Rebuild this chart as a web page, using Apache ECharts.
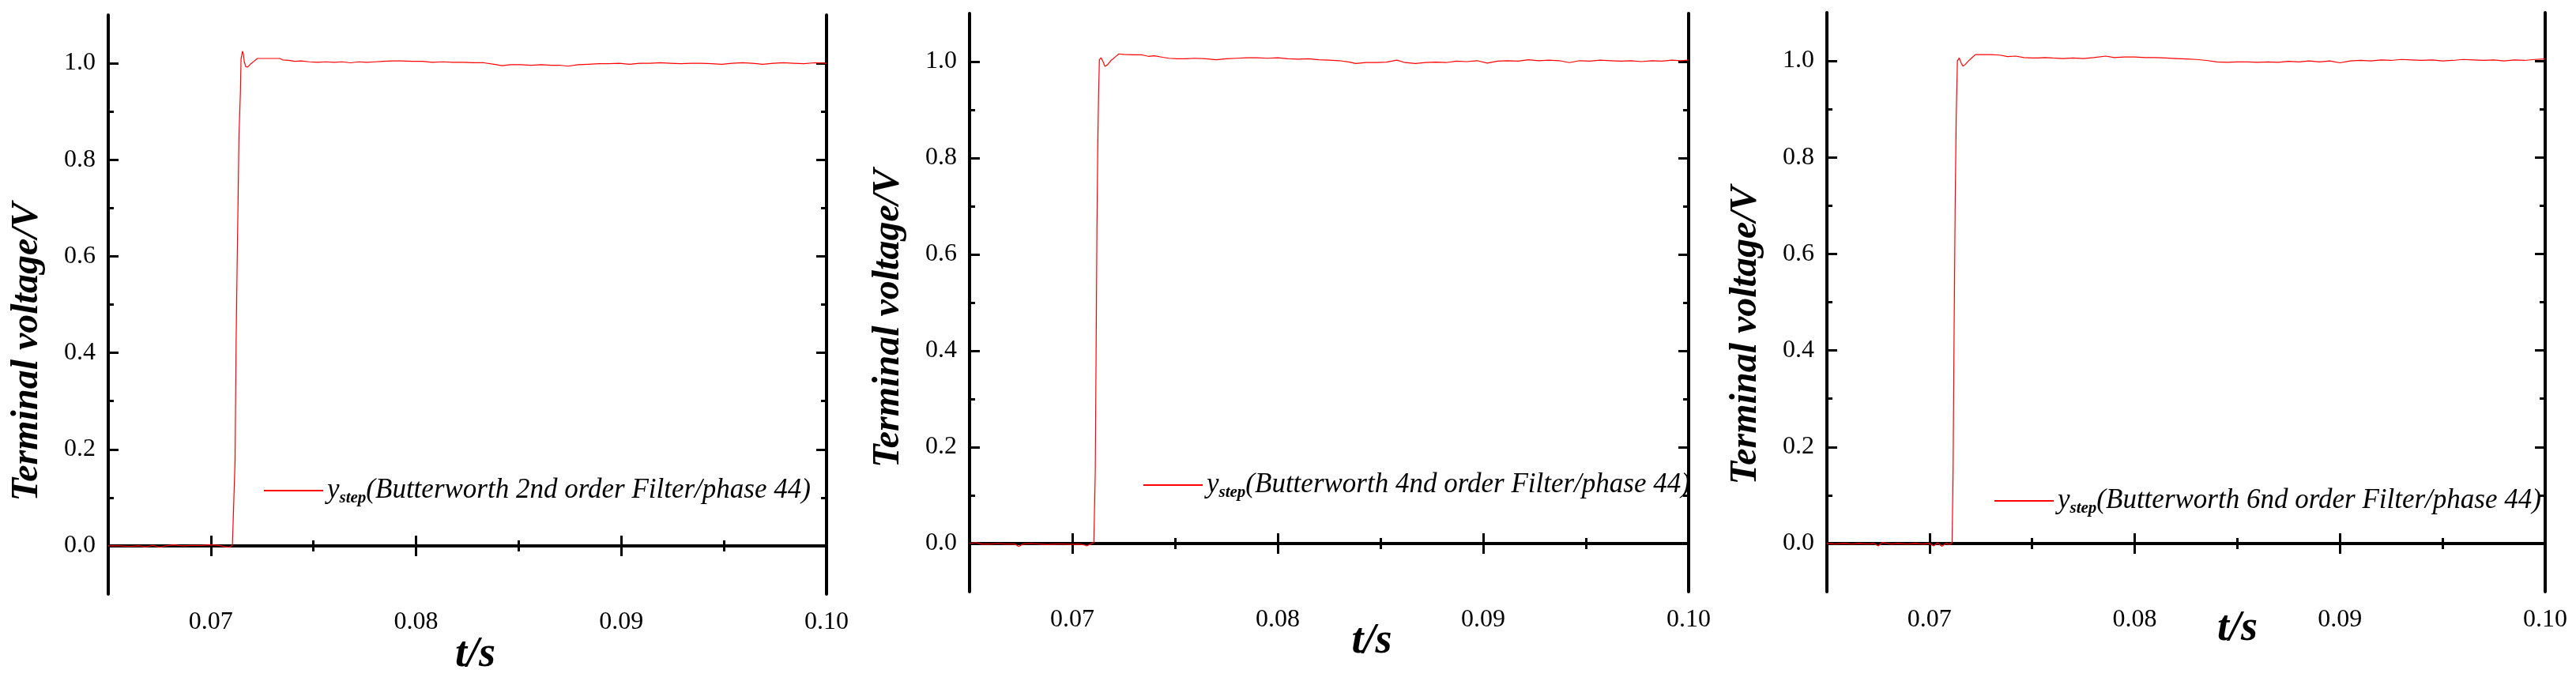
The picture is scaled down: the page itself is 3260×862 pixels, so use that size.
<!DOCTYPE html>
<html><head><meta charset="utf-8">
<script src="https://cdn.jsdelivr.net/npm/echarts@6.0.0/dist/echarts.min.js"></script>
<style>html,body{margin:0;padding:0;background:#fff}#c{width:3260px;height:862px}</style>
</head><body><div id="c"></div>
<script>
// ---- tick values ----
const xMajor = [0.07, 0.08, 0.09, 0.10];
const xMinor = [0.075, 0.085, 0.095];
const yMajor = [0.0, 0.2, 0.4, 0.6, 0.8, 1.0];
const yMinor = [0.1, 0.3, 0.5, 0.7, 0.9];
const filterOrders = ['2nd', '4nd', '6nd'];

// ---- panel 1 : Butterworth 2nd order ----
const t1 = [0.0650,0.0655,0.0660,0.0665,0.0668,0.0672,0.0675,0.0678,0.0682,0.0686,0.0690,0.0695,0.0700,0.0704,0.0707,0.0709,0.07105,
  0.07112,0.07118,0.07123,0.07128,0.07133,0.07137,0.07144,0.07147,0.07154,0.07158,0.07163,0.07170,0.07178,0.07186,0.07195,0.07210,0.07227,
  0.0730,0.07336,0.0735,0.0738,0.0741,0.0744,0.0748,0.0752,0.0756,0.0760,0.0764,0.0768,0.0772,0.0776,0.0780,0.0784,0.0788,0.0793,0.0798,
  0.0803,0.0808,0.0813,0.0818,0.0823,0.0828,0.0833,0.0838,0.0842,0.0846,0.0851,0.0856,0.0861,0.0866,0.0870,0.0874,0.0879,0.0884,0.0889,
  0.0894,0.0899,0.0904,0.0909,0.0914,0.0919,0.0924,0.0929,0.0934,0.0939,0.0944,0.0949,0.0954,0.0959,0.0964,0.0969,0.0974,0.0979,0.0984,
  0.0989,0.0994,0.1000];
const v1 = [0.000,0.000,-0.001,0.000,-0.002,0.001,-0.003,0.000,0.002,0.000,0.001,0.001,0.002,0.001,-0.002,-0.003,0.001,
  0.004,0.178,0.417,0.580,0.727,0.850,0.940,1.008,1.025,1.020,1.003,0.993,0.992,0.995,0.999,1.004,1.010,
  1.010,1.010,1.007,1.006,1.004,1.005,1.003,1.002,1.003,1.002,1.003,1.001,1.003,1.002,1.003,1.004,1.005,1.005,1.004,
  1.004,1.002,1.003,1.002,1.002,1.001,1.001,0.998,0.995,0.997,0.997,0.996,0.997,0.996,0.996,0.994,0.997,0.998,0.999,
  0.999,1.000,0.998,1.000,1.000,1.001,1.000,0.999,1.000,1.000,0.999,0.998,1.000,1.001,1.000,0.998,1.000,1.001,1.000,
  0.999,1.001,1.000];

// ---- panel 2 : Butterworth 4nd order ----
const t2 = [0.0650,0.0653,0.0656,0.0660,0.0664,0.0668,0.0672,0.0674,0.0676,0.0680,0.0684,0.0688,0.0692,0.0696,0.0700,0.0703,0.0706,0.0707,0.0709,0.07105,
  0.07108,0.07112,0.07116,0.07120,0.07124,0.07128,0.07132,0.07140,0.07150,0.07159,0.07170,0.07190,0.07210,0.07227,0.0725,0.0730,0.0734,0.0737,
  0.0740,0.0744,0.0747,0.0751,0.0755,0.0760,0.0765,0.0770,0.0775,0.0780,0.0785,0.0790,0.0795,0.0800,0.0805,0.0810,0.0815,0.0820,0.0825,
  0.0830,0.0835,0.0838,0.0843,0.0848,0.0853,0.0858,0.0862,0.0867,0.0872,0.0877,0.0882,0.0887,0.0892,0.0897,0.0902,0.0907,0.0912,0.0917,
  0.0922,0.0927,0.0932,0.0937,0.0942,0.0947,0.0952,0.0957,0.0962,0.0967,0.0972,0.0977,0.0982,0.0987,0.0992,0.0996,0.1000];
const v2 = [0.000,0.002,-0.001,-0.001,0.000,-0.001,-0.001,-0.006,-0.001,0.000,-0.001,-0.002,-0.001,-0.001,-0.002,-0.001,-0.003,-0.005,-0.001,0.002,
  0.002,0.150,0.400,0.650,0.820,0.930,1.004,1.008,1.000,0.990,0.993,1.003,1.010,1.016,1.015,1.014,1.014,1.011,
  1.012,1.009,1.007,1.006,1.006,1.007,1.006,1.004,1.006,1.007,1.008,1.008,1.007,1.008,1.006,1.005,1.006,1.004,1.003,
  1.002,0.999,0.996,0.998,0.998,0.999,1.003,0.998,0.996,0.998,0.999,0.998,1.001,1.000,1.002,0.997,1.001,1.002,1.001,
  1.004,1.002,1.003,1.002,0.998,1.002,1.001,1.003,1.002,1.001,1.002,1.000,1.002,1.001,1.003,1.002,1.003];

// ---- panel 3 : Butterworth 6nd order ----
const t3 = [0.0650,0.0654,0.0658,0.0662,0.0666,0.0670,0.0673,0.0675,0.0677,0.0681,0.0685,0.0689,0.0693,0.0697,0.0700,0.0702,0.0704,0.0706,0.0708,0.0710,
  0.07110,0.07115,0.07120,0.07125,0.07130,0.07136,0.07145,0.07155,0.07163,0.07175,0.07190,0.07210,0.07224,0.0730,0.07343,0.0738,0.0742,0.0746,
  0.0750,0.0753,0.0756,0.0760,0.0765,0.0770,0.0775,0.0780,0.0786,0.0790,0.0795,0.0800,0.0805,0.0810,0.0815,0.0820,0.0825,0.0830,0.0835,
  0.0840,0.0845,0.0850,0.0855,0.0860,0.0865,0.0870,0.0875,0.0880,0.0885,0.0890,0.0895,0.0900,0.0905,0.0910,0.0915,0.0920,0.0925,0.0930,
  0.0935,0.0940,0.0945,0.0950,0.0955,0.0960,0.0965,0.0970,0.0975,0.0980,0.0985,0.0990,0.0995,0.1000];
const v3 = [0.000,-0.001,0.000,-0.001,0.000,-0.001,0.000,-0.005,0.002,-0.001,0.000,-0.001,0.000,-0.001,0.000,-0.005,0.001,-0.006,0.000,-0.002,
  0.003,0.150,0.450,0.700,0.880,1.000,1.006,0.995,0.989,0.993,1.000,1.008,1.013,1.013,1.012,1.009,1.010,1.007,
  1.006,1.006,1.007,1.006,1.005,1.006,1.005,1.007,1.010,1.007,1.008,1.008,1.007,1.007,1.006,1.005,1.004,1.003,1.001,
  0.998,0.997,0.998,0.998,0.997,0.998,0.997,0.999,0.998,1.000,0.998,1.000,0.996,1.000,1.001,1.000,1.002,1.001,1.003,
  1.002,1.001,1.002,1.000,1.001,1.003,1.002,1.001,1.002,1.000,1.002,1.001,1.003,1.004];

const panelT = [t1, t2, t3];
const panelV = [v1, v2, v3];

// ---- layout ----
const SERIF = '"Liberation Serif", "Times New Roman", "DejaVu Serif", serif';
const grids = [
  {left: 137, top: 19, width: 909, height: 733},
  {left: 1227, top: 17, width: 910, height: 732},
  {left: 2312, top: 16, width: 909, height: 733}
];
const yNameShift = [60, 20, 42];
const xNameShift = [10, 54, 65];
const xNameGap = [50, 36, 20];
const legendPos = [{left: 334, top: 601}, {left: 1447, top: 594}, {left: 2524, top: 614}];

const option = {
  animation: false,
  backgroundColor: '#ffffff',
  grid: [], xAxis: [], yAxis: [], series: [], legend: []
};

const axisLineStyle = {show: true, lineStyle: {color: '#000', width: 4}};
const noLine = {show: false};

grids.forEach((g, i) => {
  option.grid.push(Object.assign({outerBoundsMode: 'none', containLabel: false}, g));
  const xb = {type: 'value', gridIndex: i, min: 0.065, max: 0.10, splitLine: {show: false}};
  // bottom major
  option.xAxis.push(Object.assign({}, xb, {
    position: 'bottom', axisLine: axisLineStyle,
    axisTick: {show: true, inside: true, length: 13, lineStyle: {color: '#000', width: 3}, customValues: xMajor},
    axisLabel: {show: true, customValues: xMajor, margin: 20, fontFamily: SERIF, fontSize: 32, color: '#000',
      formatter: v => v.toFixed(2)},
    name: 't/s', nameLocation: 'middle', nameGap: xNameGap[i], nameMoveOverlap: false,
    nameTextStyle: {fontFamily: SERIF, fontStyle: 'italic', fontWeight: 'bold', fontSize: 54, color: '#000',
      padding: [0, 0, 0, 2 * xNameShift[i]]}
  }));
  // bottom minor
  option.xAxis.push(Object.assign({}, xb, {
    position: 'bottom', axisLine: noLine,
    axisTick: {show: true, inside: true, length: 7, lineStyle: {color: '#000', width: 3}, customValues: xMinor},
    axisLabel: {show: false}
  }));
  // top major
  option.xAxis.push(Object.assign({}, xb, {
    position: 'top', axisLine: axisLineStyle,
    axisTick: {show: true, inside: true, length: 13, lineStyle: {color: '#000', width: 3}, customValues: xMajor},
    axisLabel: {show: false}
  }));
  // top minor
  option.xAxis.push(Object.assign({}, xb, {
    position: 'top', axisLine: noLine,
    axisTick: {show: true, inside: true, length: 7, lineStyle: {color: '#000', width: 3}, customValues: xMinor},
    axisLabel: {show: false}
  }));

  const yb = {type: 'value', gridIndex: i, min: -0.1, max: 1.1, splitLine: {show: false}};
  option.yAxis.push(Object.assign({}, yb, {
    position: 'left', axisLine: axisLineStyle,
    axisTick: {show: true, inside: true, length: 13, lineStyle: {color: '#000', width: 3}, customValues: yMajor},
    axisLabel: {show: true, customValues: yMajor, margin: 16, fontFamily: SERIF, fontSize: 32, color: '#000',
      formatter: v => v.toFixed(1)},
    name: 'Terminal voltage/V', nameLocation: 'middle', nameGap: 78, nameMoveOverlap: false,
    nameTextStyle: {fontFamily: SERIF, fontStyle: 'italic', fontWeight: 'bold', fontSize: 48, color: '#000',
      padding: [0, 2 * yNameShift[i], 0, 0]}
  }));
  option.yAxis.push(Object.assign({}, yb, {
    position: 'left', axisLine: noLine,
    axisTick: {show: true, inside: true, length: 7, lineStyle: {color: '#000', width: 3}, customValues: yMinor},
    axisLabel: {show: false}
  }));
  option.yAxis.push(Object.assign({}, yb, {
    position: 'right', axisLine: axisLineStyle,
    axisTick: {show: true, inside: true, length: 13, lineStyle: {color: '#000', width: 3}, customValues: yMajor},
    axisLabel: {show: false}
  }));
  option.yAxis.push(Object.assign({}, yb, {
    position: 'right', axisLine: noLine,
    axisTick: {show: true, inside: true, length: 7, lineStyle: {color: '#000', width: 3}, customValues: yMinor},
    axisLabel: {show: false}
  }));

  const sName = 'y_step_' + filterOrders[i];
  option.series.push({
    type: 'line', name: sName, xAxisIndex: 4 * i, yAxisIndex: 4 * i,
    data: panelT[i].map((t, k) => [t, panelV[i][k]]),
    showSymbol: false, symbol: 'none', clip: true,
    lineStyle: {color: '#ff0000', width: 1.2}, itemStyle: {color: '#ff0000'}
  });
  option.legend.push({
    left: legendPos[i].left, top: legendPos[i].top, orient: 'horizontal', padding: 0,
    data: [{name: sName, icon: 'rect'}], itemWidth: 75, itemHeight: 2,
    selectedMode: false,
    formatter: () => '{a|y}{b|step}{a|(Butterworth ' + filterOrders[i] + ' order Filter/phase 44)}',
    textStyle: {color: '#000', fontFamily: SERIF, fontStyle: 'italic', fontSize: 35, lineHeight: 40,
      rich: {
        a: {fontFamily: SERIF, fontStyle: 'italic', fontSize: 35, color: '#000'},
        b: {fontFamily: SERIF, fontStyle: 'italic', fontWeight: 'bold', fontSize: 21, color: '#000', verticalAlign: 'bottom'}
      }}
  });
});

const chart = echarts.init(document.getElementById('c'), null, {renderer: 'canvas'});
chart.setOption(option);
</script></body></html>
